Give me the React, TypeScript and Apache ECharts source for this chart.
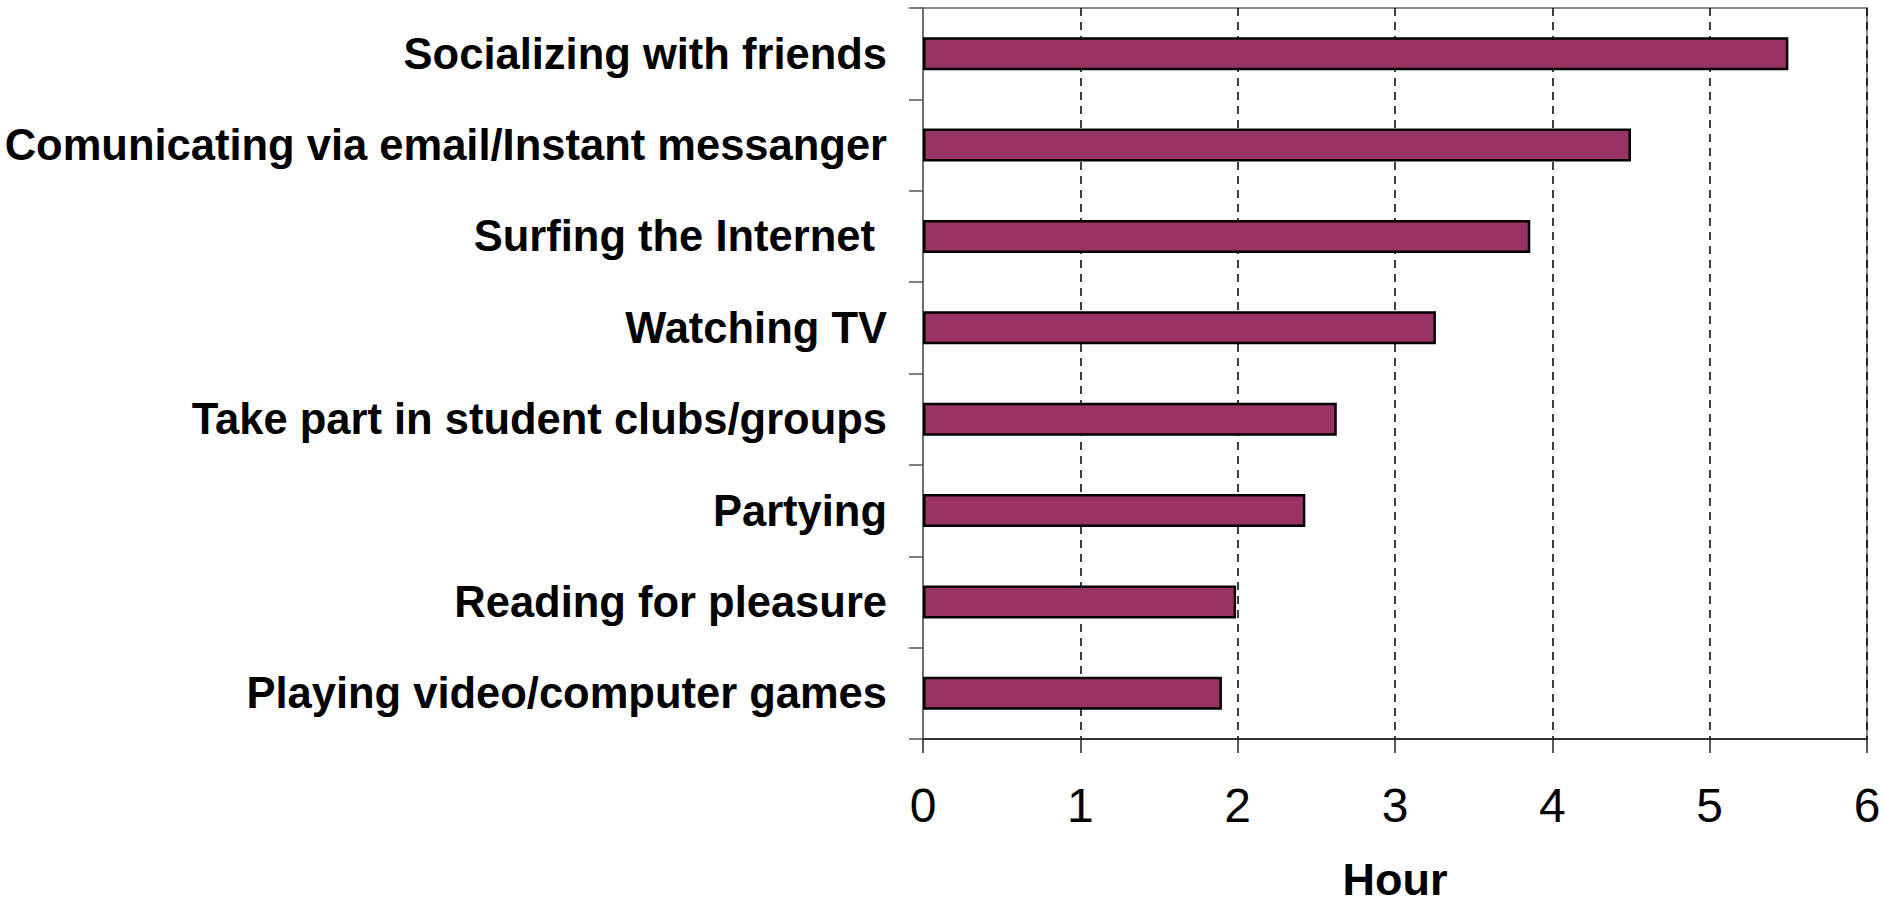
import React, { useEffect, useRef } from "react";
import * as echarts from "echarts";

const categories = [
  "Socializing with friends",
  "Comunicating via email/Instant messanger",
  "Surfing the Internet ",
  "Watching TV",
  "Take part in student clubs/groups",
  "Partying",
  "Reading for pleasure",
  "Playing video/computer games",
];
const hours = [5.5, 4.5, 3.86, 3.26, 2.63, 2.43, 1.99, 1.9];
const xTicks = [0, 1, 2, 3, 4, 5, 6];
const xAxisTitle = "Hour";

export default function App() {
  const ref = useRef<HTMLDivElement>(null);
  useEffect(() => {
    document.body.style.margin = "0";
    const chart = echarts.init(ref.current!, undefined, { renderer: "svg" });
    chart.setOption({
      animation: false,
      backgroundColor: "#ffffff",
      grid: {
        left: 923,
        top: 8,
        width: 944,
        height: 731,
        containLabel: false,
        outerBoundsMode: "none",
        show: true,
        borderColor: "#8a8a8a",
        borderWidth: 2,
        backgroundColor: "transparent",
      },
      xAxis: {
        type: "value",
        min: xTicks[0],
        max: xTicks[xTicks.length - 1],
        interval: 1,
        name: xAxisTitle,
        nameLocation: "middle",
        nameGap: 118,
        nameTextStyle: {
          fontFamily: "Liberation Sans, Arial, sans-serif",
          fontWeight: "bold",
          fontSize: 45,
          color: "#000",
          lineHeight: 44,
        },
        axisLine: { show: true, lineStyle: { color: "#333", width: 2 } },
        axisTick: { show: true, length: 14, inside: false, lineStyle: { color: "#222", width: 1.5 } },
        axisLabel: {
          margin: 42,
          fontFamily: "Liberation Sans, Arial, sans-serif",
          fontSize: 48,
          lineHeight: 48,
          color: "#000",
        },
        splitLine: {
          show: true,
          lineStyle: { color: "#000", type: [8, 6], width: 1.5 },
        },
      },
      yAxis: {
        type: "category",
        data: categories,
        inverse: true,
        axisLine: { show: true, lineStyle: { color: "#6e6e6e", width: 2 } },
        axisTick: { show: true, length: 14, lineStyle: { color: "#555", width: 1.5 } },
        axisLabel: {
          margin: 36,
          fontFamily: "Liberation Sans, Arial, sans-serif",
          fontWeight: "bold",
          fontSize: 43.5,
          color: "#000",
          formatter: (v: string) => v.replace(/ $/, "\u00a0"),
        },
        splitLine: { show: false },
      },
      series: [
        {
          type: "bar",
          data: hours,
          barWidth: 33,
          itemStyle: { color: "#993366", borderColor: "#000", borderWidth: 2.5 },
        },
      ],
    });
    return () => chart.dispose();
  }, []);
  return <div ref={ref} style={{ width: 1884, height: 905 }} />;
}
